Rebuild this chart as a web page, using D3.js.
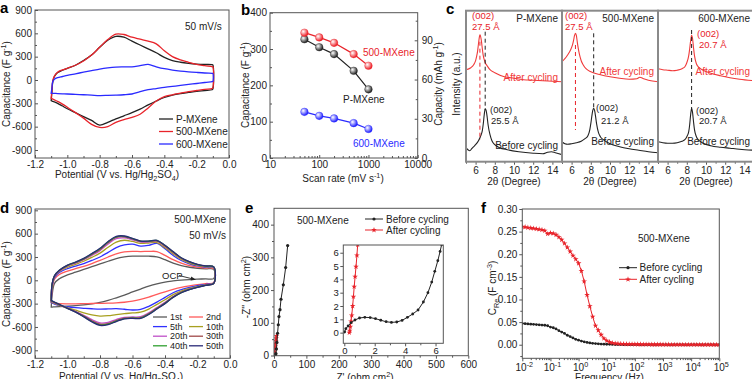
<!DOCTYPE html>
<html><head><meta charset="utf-8">
<script src="https://cdn.jsdelivr.net/npm/d3@7"></script>
<style>body{margin:0;background:#fff}</style>
</head><body>
<script>
// ================= DATA =================
// Panel a: CV curves at 50 mV/s
const aPotential = [-1.1,-1.095,-1.09,-1.08,-1.06,-1.03,-1.0,-0.95,-0.9,-0.85,-0.8,-0.75,-0.7,-0.65,-0.6,-0.55,-0.5,-0.45,-0.4,-0.35,-0.3,-0.25,-0.2,-0.15,-0.105,-0.1];
const aP_up   = [-265,-150,-20,45,95,125,150,190,250,320,420,510,560,550,500,450,400,350,290,250,228,214,205,200,198,195];
const aP_lo   = [-265,-270,-275,-280,-300,-335,-370,-420,-470,-520,-580,-545,-500,-460,-420,-375,-320,-270,-225,-195,-175,-160,-145,-135,-125,-115];
const a500_up = [-235,-120,-10,50,100,130,150,190,245,320,420,520,590,585,550,525,500,465,375,300,258,228,200,185,172,170];
const a500_lo = [-235,-240,-245,-255,-275,-310,-350,-420,-490,-570,-610,-600,-545,-510,-480,-440,-360,-270,-215,-190,-170,-150,-135,-120,-110,-100];
const a600_up = [-170,-100,-20,10,30,45,60,80,100,120,140,155,165,168,170,185,200,170,145,128,115,105,97,90,86,85];
const a600_lo = [-170,-170,-171,-172,-175,-178,-180,-185,-190,-195,-200,-198,-195,-190,-180,-150,-125,-110,-95,-82,-70,-57,-45,-32,-22,-20];
const aXTicks = [-1.2,-1.0,-0.8,-0.6,-0.4,-0.2,0.0];
const aYTicks = [-900,-600,-300,0,300,600,900];

// Panel b: rate capability
const bRates = [50,100,200,500,1000];
const bP   = [327,305,286,240,189];
const b500 = [345,332,317,286,254];
const b600 = [127,116,109,96,80];
const bXTicks = [10,100,1000,10000];
const bYTicks = [0,100,200,300,400];
const bY2Ticks = [0,30,60,90];

// Panel c: XRD (intensity in a.u.)
const cP_after_x = [5.0,5.5,5.8,6.0,6.1,6.2,6.3,6.4,6.45,6.5,6.6,6.7,6.8,6.9,7.0,7.2,7.5,8.0,9.0,10,11,12,13,14,15];
const cP_after_y = [92,94,97,101,105,110,118,125,127,126,121,113,106,102,99,96,92,89,85,83.5,82,81.5,81,80.5,80];
const cP_before_x = [5.0,5.2,5.4,5.6,5.8,6.0,6.3,6.5,6.7,6.8,6.9,7.0,7.1,7.2,7.3,7.5,7.7,8.0,8.5,9.3,10.5,12,13,13.5,13.9,14.3,15];
const cP_before_y = [14,12,11,13,15,17,21,25,31,38,47,53,51,45,37,27,21,17,14,12,10,8.5,8,9.5,10,9,7];
const c500_after_x = [5.0,5.3,5.6,5.9,6.1,6.2,6.3,6.4,6.5,6.6,6.7,6.8,7.0,7.2,7.5,8.0,9.0,10,11,12,12.8,13.1,13.5,14,15];
const c500_after_y = [100,103,107,112,117,121,126,128.5,126,119,113,108,101,97,93,90,87,85,83.5,82.5,83,84.5,83,81.5,80];
const c500_before_x = [5.0,5.3,5.6,6.0,6.5,7.0,7.4,7.7,7.9,8.0,8.1,8.2,8.3,8.4,8.5,8.6,8.8,9.0,9.3,10,11,12,13,14,15];
const c500_before_y = [20,18,17.5,18,19,20.5,23,26,32,38,45,51,53.5,51,45,38,29,25,22,18,15,13,11.5,10,9];
const c600_after_x = [5.0,5.5,6.0,6.5,7.0,7.5,7.8,8.0,8.2,8.3,8.4,8.5,8.6,8.7,8.8,9.0,9.3,9.7,10.5,11.5,12.5,13.5,15];
const c600_after_y = [93,92,91.5,91,91.5,93,95,99,106,113,121,126.5,123,114,106,98,94,91.5,88.5,86,84,82.5,81];
const c600_before_x = [5.0,5.5,6.0,6.5,7.0,7.5,7.8,8.0,8.2,8.3,8.4,8.5,8.6,8.7,8.8,9.0,9.3,9.7,10.5,11.5,12.5,13.5,15];
const c600_before_y = [20,19,18.5,18.5,19,20.5,22,25,30,37,47,53.5,49,40,32,25,21,18.5,16,14.5,13.5,12.5,11.5];
const cNames = ["P-MXene","500-MXene","600-MXene"];
const cAfterD = ["27.5 Å","27.5 Å","20.7 Å"];
const cBeforeD = ["25.5 Å","21.2 Å","20.7 Å"];
const cXTicks = [6,8,10,12,14];

// Panel d: CV cycles of 500-MXene
const dPotential = [-1.1,-1.095,-1.08,-1.05,-1.0,-0.95,-0.9,-0.85,-0.8,-0.75,-0.7,-0.65,-0.6,-0.55,-0.5,-0.45,-0.4,-0.35,-0.3,-0.25,-0.2,-0.15,-0.1];
const d1_up  = [-345,-200,-40,20,70,105,140,175,210,245,280,300,310,312,310,300,265,220,188,168,155,147,142];
const d1_lo  = [-345,-344,-342,-338,-332,-325,-316,-303,-285,-258,-225,-190,-150,-112,-75,-45,-22,-8,3,10,15,19,22];
const d2_up  = [-285,-120,15,75,118,150,180,215,255,300,340,365,372,370,372,370,320,265,220,190,170,158,150];
const d2_lo  = [-285,-290,-295,-300,-302,-302,-300,-298,-296,-294,-290,-282,-268,-245,-215,-180,-148,-118,-92,-72,-55,-42,-30];
const d5_up  = [-285,-90,35,100,150,182,215,255,300,360,420,455,465,440,450,475,405,320,255,212,185,170,160];
const d5_lo  = [-285,-292,-305,-322,-340,-352,-360,-366,-370,-368,-365,-372,-382,-375,-335,-280,-220,-160,-120,-92,-70,-52,-35];
const d10_up = [-275,-70,45,112,168,205,245,295,350,425,490,515,500,475,480,485,420,340,268,222,192,175,165];
const d10_lo = [-275,-282,-298,-322,-352,-385,-418,-445,-460,-455,-440,-428,-420,-410,-370,-310,-250,-185,-138,-105,-80,-58,-37];
const d20_up = [-268,-60,52,120,182,221,264,320,382,468,535,545,520,492,493,500,435,355,280,232,198,180,168];
const d20_lo = [-268,-274,-290,-318,-358,-400,-450,-505,-548,-540,-505,-476,-472,-468,-418,-350,-284,-208,-152,-114,-86,-62,-38];
const d30_up = [-265,-55,55,125,188,228,273,333,397,485,552,560,532,500,500,508,443,362,284,236,201,182,170];
const d30_lo = [-265,-270,-286,-315,-360,-405,-460,-520,-565,-556,-518,-486,-482,-480,-430,-360,-292,-214,-156,-117,-88,-63,-39];
const d40_up = [-262,-52,58,128,192,232,278,340,405,494,560,566,537,503,503,512,447,366,287,238,203,184,171];
const d40_lo = [-262,-267,-282,-312,-360,-408,-466,-530,-575,-565,-526,-492,-487,-486,-436,-366,-297,-218,-158,-119,-89,-64,-40];
const d50_up = [-260,-50,60,130,195,235,282,345,411,500,565,570,540,505,505,515,450,370,290,240,205,185,172];
const d50_lo = [-260,-265,-280,-310,-360,-410,-470,-535,-580,-570,-530,-495,-490,-490,-440,-370,-300,-220,-160,-120,-90,-65,-40];

// Panel e: Nyquist
const eBefore_x = [0.2,1,2,3,4,5,6,7.5,9,11,13.3,15.4,18.5,21.6,28.8,36,42.2];
const eBefore_y = [0.2,1.1,1.05,0.75,1.1,2.5,6,20,40,68,94,119,140,172,216,269,336];
const eAfter_x = [0.3,0.35,0.45,0.6,0.85,1.5,2.5,3.5,4.5,5.5,6.5,7.5];
const eAfter_y = [0.1,0.6,1.9,4.3,6.5,12,20,28,36,44,52,60];
const eInBefore_x = [0.02,0.1,0.25,0.45,0.7,1.0,1.35,1.7,2.05,2.4,2.75,3.1,3.45,3.8,4.15,4.5,4.85,5.2,5.5,5.75,5.95,6.15,6.3,6.4];
const eInBefore_y = [0.05,0.3,0.5,0.75,0.95,1.1,1.15,1.13,1.05,0.93,0.82,0.77,0.8,0.92,1.15,1.4,1.7,2.3,3.0,3.8,4.6,5.4,6.1,6.6];
const eInAfter_x = [0.33,0.36,0.4,0.44,0.49,0.55,0.6,0.65,0.71,0.77,0.83,0.88];
const eInAfter_y = [0.0,0.15,0.45,0.85,1.3,2.0,2.7,3.45,4.2,4.95,5.8,6.6];

// Panel f: real capacitance vs frequency
const fFreq = [0.01,0.0126,0.0158,0.02,0.0251,0.0316,0.0398,0.0501,0.0631,0.0794,
  0.1,0.126,0.158,0.2,0.251,0.316,0.398,0.501,0.631,0.794,
  1,1.26,1.58,2,2.51,3.16,3.98,5.01,6.31,7.94,
  10,12.6,15.8,20,25.1,31.6,39.8,50.1,63.1,79.4,
  100,126,158,200,251,316,398,501,631,794,
  1000,1260,1580,2000,2510,3160,3980,5010,6310,7940,
  10000,12600,15800,20000,25100,31600,39800,50100,63100,79400,100000];
const fAfter = [0.261,0.260,0.259,0.258,0.257,0.256,0.255,0.254,0.252,0.245,
  0.247,0.246,0.243,0.238,0.232,0.224,0.215,0.206,0.197,0.189,
  0.180,0.163,0.140,0.110,0.085,0.062,0.042,0.032,0.022,0.014,
  0.009,0.006,0.004,0.003,0.0025,0.002,0.0018,0.0015,0.0013,0.0012,
  0.001,0.001,0.0009,0.0008,0.0007,0.0006,0.0005,0.0005,0.0004,0.0004,
  0.0003,0.0003,0.0003,0.0002,0.0002,0.0002,0.0002,0.0001,0.0001,0.0001,
  0.0001,0.0001,0.0001,0.0001,0,0,0,0,0,0,0];
const fBefore = [0.047,0.0465,0.046,0.0455,0.045,0.0445,0.044,0.0435,0.043,0.042,
  0.039,0.0375,0.035,0.031,0.028,0.025,0.021,0.018,0.015,0.012,
  0.010,0.008,0.0065,0.005,0.004,0.003,0.0025,0.002,0.0015,0.0012,
  0.001,0.0008,0.0006,0.0005,0.0004,0.0003,0.0002,0.0002,0.0001,0.0001,
  0.0001,0.0001,0,0,0,0,0,0,0,0,
  0,0,0,0,0,0,0,0,0,0,
  0,0,0,0,0,0,0,0,0,0,0];
const fYTicks = [0,0.05,0.10,0.15,0.20,0.25,0.30];
const fXExp = [-2,-1,0,1,2,3,4,5];

// ================= DRAWING =================
const FONT = '"Liberation Sans", Arial, Helvetica, sans-serif';
const FR = "#555";
const BLK = "#222", RED = "#e8232a", BLU = "#2a2aff";
const svg = d3.select("body").append("svg").attr("width",752).attr("height",379).style("font-family",FONT);
svg.append("rect").attr("width",752).attr("height",379).attr("fill","#fff");
const defs = svg.append("defs");

function rich(parent, x, y, parts, o={}) {
  const size = o.size || 10;
  const t = parent.append("text").attr("font-size", size).attr("fill", o.color || BLK)
    .attr("text-anchor", o.anchor || "start").attr("font-family", FONT);
  if (o.weight) t.attr("font-weight", o.weight);
  if (o.rotate) t.attr("transform", `translate(${x},${y}) rotate(${o.rotate})`);
  else t.attr("x", x).attr("y", y);
  let cur = 0;
  parts.forEach(p => {
    const [s, k] = typeof p === "string" ? [p, null] : p;
    const target = k === "sup" ? -0.4*size : k === "sub" ? 0.3*size : 0;
    const ts = t.append("tspan").text(s).attr("dy", target - cur);
    if (k) ts.attr("font-size", size*0.72);
    cur = target;
  });
  return t;
}
function frame(x0,y0,x1,y1,color=FR,w=1){
  svg.append("rect").attr("x",x0).attr("y",y0).attr("width",x1-x0).attr("height",y1-y0)
    .attr("fill","none").attr("stroke",color).attr("stroke-width",w);
}
function clip(id,x0,y0,x1,y1){
  defs.append("clipPath").attr("id",id).append("rect").attr("x",x0).attr("y",y0).attr("width",x1-x0).attr("height",y1-y0);
  return `url(#${id})`;
}
function ax(gen, tr, vals, {size=3, pad=3, fmt=null, fs=10}={}) {
  gen.tickValues(vals).tickSize(size).tickPadding(pad);
  if (fmt) gen.tickFormat(fmt); else gen.tickFormat("");
  const s = svg.append("g").attr("transform", tr).call(gen);
  s.select(".domain").remove();
  s.selectAll("line").attr("stroke", FR);
  s.selectAll("text").attr("font-size", fs).attr("fill", BLK).attr("font-family", FONT);
  return s;
}
const hy = v => String(v).replace("\u2212","-");
function loopPts(V, up, lo){
  const p = V.map((v,i)=>[v, up[i]]);
  for (let i=V.length-1;i>=0;i--) p.push([V[i], lo[i]]);
  return p;
}
function letter(x,y,s){ svg.append("text").attr("x",x).attr("y",y).attr("font-size",15).attr("font-weight","bold").attr("fill","#000").attr("font-family",FONT).text(s); }

// ---------- Panel a ----------
{
  const x = d3.scaleLinear([-1.2,0],[35,229]);
  const y = d3.scaleLinear([-1003,900],[158,10]);
  const cp = clip("ca",35,10,229,158);
  const line = d3.line().x(d=>x(d[0])).y(d=>y(d[1])).curve(d3.curveCatmullRomClosed.alpha(0.5));
  const ser = [[aP_up,aP_lo,BLK],[a500_up,a500_lo,RED],[a600_up,a600_lo,BLU]];
  ser.forEach(s => svg.append("path").attr("d", line(loopPts(aPotential,s[0],s[1])))
      .attr("fill","none").attr("stroke",s[2]).attr("stroke-width",1.3).attr("clip-path",cp));
  ax(d3.axisBottom(x), "translate(0,158)", aXTicks, {size:-3, pad:3, fmt:d=>d.toFixed(1)});
  ax(d3.axisBottom(x), "translate(0,158)", aXTicks.slice(0,-1).map(v=>v+0.1), {size:-2});
  ax(d3.axisLeft(y), "translate(35,0)", aYTicks, {size:-3, pad:3, fmt:d=>hy(d)});
  ax(d3.axisLeft(y), "translate(35,0)", aYTicks.slice(0,-1).map(v=>v+150), {size:-2});
  frame(35,10,229,158);
  rich(svg, 10, 84, ["Capacitance (F g",["-1","sup"],")"], {anchor:"middle", rotate:-90});
  rich(svg, 117, 178, ["Potential (V vs. Hg/Hg",["2","sub"],"SO",["4","sub"],")"], {anchor:"middle"});
  rich(svg, 185, 29.5, ["50 mV/s"]);
  const leg = [["P-MXene",BLK],["500-MXene",RED],["600-MXene",BLU]];
  leg.forEach((l,i)=>{
    const yy = 119 + i*12.5;
    svg.append("line").attr("x1",159).attr("x2",173).attr("y1",yy).attr("y2",yy).attr("stroke",l[1]).attr("stroke-width",1.3);
    rich(svg, 176, yy+3.5, [l[0]]);
  });
  letter(0,13,"a");
}

// ---------- Panel b ----------
{
  const x = d3.scaleLog([10,10000],[270,417.7]);
  const y = d3.scaleLinear([0,400],[158,12.7]);
  const y2 = d3.scaleLinear([0,400/3.6],[158,12.7]);
  const grads = [["gK","#222"],["gR","#ee1c24"],["gB","#2020ff"]];
  grads.forEach(g=>{
    const rg = defs.append("radialGradient").attr("id",g[0]).attr("cx","35%").attr("cy","35%").attr("r","65%");
    rg.append("stop").attr("offset","0%").attr("stop-color","#fff");
    rg.append("stop").attr("offset","100%").attr("stop-color",g[1]);
  });
  const ser = [[bP,BLK,"gK"],[b500,RED,"gR"],[b600,BLU,"gB"]];
  const line = d3.line().x((d,i)=>x(bRates[i])).y(d=>y(d));
  ser.forEach(s=>{
    svg.append("path").attr("d",line(s[0])).attr("fill","none").attr("stroke",s[1]).attr("stroke-width",1.2);
    svg.selectAll(null).data(s[0]).enter().append("circle").attr("cx",(d,i)=>x(bRates[i])).attr("cy",d=>y(d))
      .attr("r",3.8).attr("fill",`url(#${s[2]})`).attr("stroke",s[1]).attr("stroke-width",0.4);
  });
  ax(d3.axisBottom(x), "translate(0,158)", bXTicks, {size:-3, pad:3, fmt:d3.format("d")});
  const minors = [];
  [10,100,1000].forEach(b=>{ for(let k=2;k<10;k++) minors.push(b*k); });
  ax(d3.axisBottom(x), "translate(0,158)", minors, {size:-2});
  ax(d3.axisLeft(y), "translate(270,0)", bYTicks, {size:-3, pad:3, fmt:d3.format("d")});
  ax(d3.axisLeft(y), "translate(270,0)", [50,150,250,350], {size:-2});
  ax(d3.axisRight(y2), "translate(417.7,0)", bY2Ticks, {size:-3, pad:4, fmt:d3.format("d")});
  ax(d3.axisRight(y2), "translate(417.7,0)", [15,45,75,105], {size:-2});
  frame(270,12.7,417.7,158);
  rich(svg, 249, 85, ["Capacitance (F g",["-1","sup"],")"], {anchor:"middle", rotate:-90});
  rich(svg, 442, 84, ["Capacity (mAh g",["-1","sup"],")"], {anchor:"middle", rotate:-90});
  rich(svg, 343, 182, ["Scan rate (mV s",["-1","sup"],")"], {anchor:"middle"});
  rich(svg, 363, 55.5, ["500-MXene"], {color:RED});
  rich(svg, 343, 102.5, ["P-MXene"], {color:BLK});
  rich(svg, 353, 146.5, ["600-MXene"], {color:BLU});
  letter(241,15,"b");
}

// ---------- Panel c ----------
{
  const subs = [[466,562],[562,658],[658,754]];
  const y = d3.scaleLinear([0,151],[161.7,10.7]);
  const curves = [
    [[cP_after_x,cP_after_y],[cP_before_x,cP_before_y]],
    [[c500_after_x,c500_after_y],[c500_before_x,c500_before_y]],
    [[c600_after_x,c600_after_y],[c600_before_x,c600_before_y]]
  ];
  const dashes = [
    [[6.45,120,21.7,RED],[7.0,130,51.7,BLK]],
    [[6.4,116.7,31.7,RED],[8.3,128.4,53,BLK]],
    [[8.5,131.7,51.7,BLK]]
  ];
  const RC = "#f03a3a";
  subs.forEach((s,i)=>{
    const x = d3.scaleLinear([5,15],s);
    const cp = clip("cc"+i, s[0], 10.7, s[1], 161.7);
    const line = d3.line().x(d=>x(d[0])).y(d=>y(d[1])).curve(d3.curveMonotoneX);
    curves[i].forEach((c,j)=>{
      const pts = c[0].map((v,k)=>[v,c[1][k]]);
      svg.append("path").attr("d",line(pts)).attr("fill","none").attr("stroke", j===0?RC:BLK).attr("stroke-width",1.1).attr("clip-path",cp);
    });
    dashes[i].forEach(d=>{
      svg.append("line").attr("x1",x(d[0])).attr("x2",x(d[0])).attr("y1",y(d[1])).attr("y2",y(d[2]))
        .attr("stroke",d[3]).attr("stroke-width",1).attr("stroke-dasharray","4,3");
    });
    ax(d3.axisBottom(x), "translate(0,161.7)", cXTicks, {size:3, pad:2, fmt:d3.format("d")});
    ax(d3.axisBottom(x), "translate(0,161.7)", [5,7,9,11,13,15], {size:2});
    rich(svg, (s[0]+s[1])/2, 184.5, ["2θ (Degree)"], {anchor:"middle"});
    rich(svg, s[1]-4, 21.5, [cNames[i]], {anchor:"end"});
    rich(svg, s[1]-4, i===0?80.5:75, ["After cycling"], {anchor:"end", color:RC});
    rich(svg, s[1]-4, i===0?149:145, ["Before cycling"], {anchor:"end"});
  });
  frame(466,10.7,562,161.7,"#8a8a8a",2);
  frame(562,10.7,658,161.7,"#8a8a8a",2);
  frame(658,10.7,754,161.7,"#8a8a8a",2);
  const ann = [
    [472,19,"(002)",RED],[472,30,cAfterD[0],RED],[490,112.5,"(002)",BLK],[491,124,cBeforeD[0],BLK],
    [565,19,"(002)",RED],[565,30,cAfterD[1],RED],[596,110.5,"(002)",BLK],[601,123.5,cBeforeD[1],BLK],
    [697,37,"(002)",RED],[699,48,cAfterD[2],RED],[696,113.5,"(002)",BLK],[699,124,cBeforeD[2],BLK]
  ];
  ann.forEach(a=>rich(svg, a[0], a[1], [a[2]], {color:a[3], size:9.5}));
  rich(svg, 459.5, 84, ["Intensity (a.u.)"], {anchor:"middle", rotate:-90});
  letter(446,14,"c");
}

// ---------- Panel d ----------
{
  const x = d3.scaleLinear([-1.2,0],[35,230]);
  const y = d3.scaleLinear([-1003,917],[358.3,209]);
  const cp = clip("cd",35,209,230,358.3);
  const line = d3.line().x(d=>x(d[0])).y(d=>y(d[1])).curve(d3.curveCatmullRomClosed.alpha(0.5));
  const dSeries = [
    ["1st",d1_up,d1_lo,"#5a5a5a"],["2nd",d2_up,d2_lo,"#ff5a5a"],
    ["5th",d5_up,d5_lo,"#3030ff"],["10th",d10_up,d10_lo,"#a8a020"],
    ["20th",d20_up,d20_lo,"#c050c8"],["30th",d30_up,d30_lo,"#a04848"],
    ["40th",d40_up,d40_lo,"#30a030"],["50th",d50_up,d50_lo,"#2a2a78"]
  ];
  dSeries.forEach(s=> svg.append("path").attr("d",line(loopPts(dPotential,s[1],s[2])))
     .attr("fill","none").attr("stroke",s[3]).attr("stroke-width",1.3).attr("clip-path",cp));
  ax(d3.axisBottom(x), "translate(0,358.3)", aXTicks, {size:-3, pad:3, fmt:d=>d.toFixed(1)});
  ax(d3.axisBottom(x), "translate(0,358.3)", aXTicks.slice(0,-1).map(v=>v+0.1), {size:-2});
  ax(d3.axisLeft(y), "translate(35,0)", aYTicks, {size:-3, pad:3, fmt:d=>hy(d)});
  ax(d3.axisLeft(y), "translate(35,0)", aYTicks.slice(0,-1).map(v=>v+150), {size:-2});
  frame(35,209,230,358.3);
  rich(svg, 10, 284, ["Capacitance (F g",["-1","sup"],")"], {anchor:"middle", rotate:-90});
  rich(svg, 121, 380, ["Potential (V vs. Hg/Hg",["2","sub"],"SO",["4","sub"],")"], {anchor:"middle"});
  rich(svg, 226, 222.5, ["500-MXene"], {anchor:"end"});
  rich(svg, 226, 238.5, ["50 mV/s"], {anchor:"end"});
  rich(svg, 162, 278.5, ["OCP"], {size:9.5});
  svg.append("line").attr("x1",179).attr("y1",275.5).attr("x2",193).attr("y2",279).attr("stroke",BLK).attr("stroke-width",0.9);
  svg.append("path").attr("d","M196,279.8 L191.2,276.6 L190.6,280.6 Z").attr("fill",BLK);
  dSeries.forEach((s,i)=>{
    const col = i%2, row = Math.floor(i/2);
    const lx = col===0?153:189, yy = 317 + row*9.6;
    svg.append("line").attr("x1",lx).attr("x2",lx+14).attr("y1",yy).attr("y2",yy).attr("stroke",s[3]).attr("stroke-width",1.3);
    rich(svg, lx+17, yy+3, [s[0]], {size:9});
  });
  letter(0,213,"d");
}

// ---------- Panel e ----------
{
  const x = d3.scaleLinear([0,600],[274,468.3]);
  const y = d3.scaleLinear([0,450],[355.5,208.3]);
  const cp = clip("ce",274,208.3,468.3,355.7);
  const star = d3.symbol().type(d3.symbolStar).size(10);
  const drawSer = (xs,ys,X,Y,col,isStar,cpath,r) => {
    const line = d3.line().x((d,i)=>X(xs[i])).y(d=>Y(d));
    svg.append("path").attr("d",line(ys)).attr("fill","none").attr("stroke",col).attr("stroke-width",1).attr("clip-path",cpath);
    const g = svg.append("g").attr("clip-path",cpath);
    ys.forEach((v,i)=>{
      if (isStar) g.append("path").attr("d",star()).attr("transform",`translate(${X(xs[i])},${Y(v)})`).attr("fill",col);
      else g.append("circle").attr("cx",X(xs[i])).attr("cy",Y(v)).attr("r",r).attr("fill",col);
    });
  };
  drawSer(eAfter_x,eAfter_y,x,y,RED,true,cp,1.5);
  drawSer(eBefore_x,eBefore_y,x,y,BLK,false,cp,1.6);
  ax(d3.axisBottom(x), "translate(0,355.7)", [0,100,200,300,400,500,600], {size:3, pad:2, fmt:d3.format("d")});
  ax(d3.axisBottom(x), "translate(0,355.7)", [50,150,250,350,450,550], {size:2});
  ax(d3.axisLeft(y), "translate(274,0)", [0,100,200,300,400], {size:3, pad:2, fmt:d3.format("d")});
  ax(d3.axisLeft(y), "translate(274,0)", [50,150,250,350], {size:2});
  frame(274,208.3,468.3,355.7);
  const xi = d3.scaleLinear([-0.066,6.51],[343.3,443.3]);
  const yi = d3.scaleLinear([-0.8,6.58],[343.3,245]);
  const cpi = clip("cei",343.3,245,443.3,343.3);
  svg.append("rect").attr("x",343.3).attr("y",245).attr("width",100).attr("height",98.3).attr("fill","#fff");
  drawSer(eInAfter_x,eInAfter_y,xi,yi,RED,true,cpi,1.5);
  drawSer(eInBefore_x,eInBefore_y,xi,yi,BLK,false,cpi,1.4);
  ax(d3.axisBottom(xi), "translate(0,343.3)", [0,2,4,6], {size:3, pad:1, fmt:d3.format("d"), fs:9.5});
  ax(d3.axisBottom(xi), "translate(0,343.3)", [1,3,5], {size:2});
  ax(d3.axisLeft(yi), "translate(343.3,0)", [0,1,2,3,4,5,6], {size:3, pad:1.5, fmt:d3.format("d"), fs:9.5});
  frame(343.3,245,443.3,343.3);
  rich(svg, 250, 287, ["-Z'' (ohm cm",["2","sup"],")"], {anchor:"middle", rotate:-90});
  rich(svg, 365, 381, ["Z' (ohm cm",["2","sup"],")"], {anchor:"middle"});
  rich(svg, 297, 223.5, ["500-MXene"]);
  [["Before cycling",BLK,false],["After cycling",RED,true]].forEach((l,i)=>{
    const yy = 219 + i*11;
    svg.append("line").attr("x1",365).attr("x2",383).attr("y1",yy).attr("y2",yy).attr("stroke",l[1]).attr("stroke-width",1);
    if (l[2]) svg.append("path").attr("d",star()).attr("transform",`translate(374,${yy})`).attr("fill",l[1]);
    else svg.append("circle").attr("cx",374).attr("cy",yy).attr("r",1.6).attr("fill",l[1]);
    rich(svg, 386, yy+3.5, [l[0]]);
  });
  letter(245,213,"e");
}

// ---------- Panel f ----------
{
  const x = d3.scaleLog([1e-2,1e5],[522.3,719.3]);
  const y = d3.scaleLinear([-0.03,0.30],[358.3,209]);
  const cp = clip("cf",522.3,209,719.3,358.3);
  const star = d3.symbol().type(d3.symbolStar).size(10);
  const line = d3.line().x((d,i)=>x(fFreq[i])).y(d=>y(d));
  svg.append("path").attr("d",line(fBefore)).attr("fill","none").attr("stroke",BLK).attr("stroke-width",1).attr("clip-path",cp);
  const gb = svg.append("g").attr("clip-path",cp);
  fBefore.forEach((v,i)=>gb.append("circle").attr("cx",x(fFreq[i])).attr("cy",y(v)).attr("r",1.4).attr("fill",BLK));
  svg.append("path").attr("d",line(fAfter)).attr("fill","none").attr("stroke",RED).attr("stroke-width",1).attr("clip-path",cp);
  const gr = svg.append("g").attr("clip-path",cp);
  fAfter.forEach((v,i)=>gr.append("path").attr("d",star()).attr("transform",`translate(${x(fFreq[i])},${y(v)})`).attr("fill",RED));
  const dec = fXExp.map(e=>Math.pow(10,e));
  ax(d3.axisBottom(x), "translate(0,358.3)", dec, {size:3});
  const mins = [];
  fXExp.slice(0,-1).forEach(e=>{ for(let k=2;k<10;k++) mins.push(k*Math.pow(10,e)); });
  ax(d3.axisBottom(x), "translate(0,358.3)", mins, {size:1.8});
  fXExp.forEach(e=>{
    rich(svg, x(Math.pow(10,e))+2, 370.5, ["10",[String(e),"sup"]], {anchor:"middle"});
  });
  ax(d3.axisLeft(y), "translate(522.3,0)", fYTicks, {size:3, pad:2, fmt:d3.format(".2f")});
  ax(d3.axisLeft(y), "translate(522.3,0)", [-0.025,0.025,0.075,0.125,0.175,0.225,0.275], {size:2});
  frame(522.3,209,719.3,358.3);
  rich(svg, 496, 288, ["C",["Re","sub"]," (F cm",["-3","sup"],")"], {anchor:"middle", rotate:-90});
  rich(svg, 609.5, 381, ["Frequency (Hz)"], {anchor:"middle"});
  rich(svg, 638, 241.5, ["500-MXene"]);
  [["Before cycling",BLK,false],["After cycling",RED,true]].forEach((l,i)=>{
    const yy = 267.7 + i*11.6;
    svg.append("line").attr("x1",619).attr("x2",637).attr("y1",yy).attr("y2",yy).attr("stroke",l[1]).attr("stroke-width",1);
    if (l[2]) svg.append("path").attr("d",star()).attr("transform",`translate(628,${yy})`).attr("fill",l[1]);
    else svg.append("circle").attr("cx",628).attr("cy",yy).attr("r",1.6).attr("fill",l[1]);
    rich(svg, 639.5, yy+3.5, [l[0]]);
  });
  letter(481,213,"f");
}
</script>
</body></html>
